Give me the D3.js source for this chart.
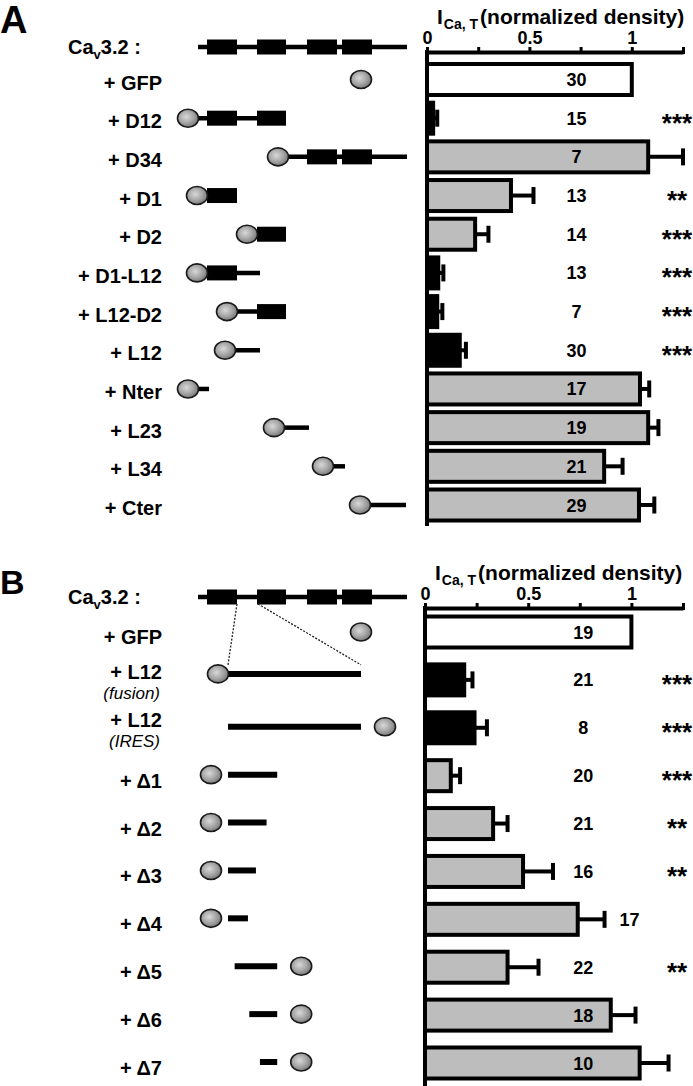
<!DOCTYPE html>
<html><head><meta charset="utf-8">
<script src="https://cdn.jsdelivr.net/npm/d3@7"></script>
<style>body{margin:0;background:#fff} svg{display:block} text{font-family:"Liberation Sans",Arial,Helvetica,sans-serif}</style>
</head><body><svg id="c" width="693" height="1086"></svg>
<script>
// ---------- Panel A data ----------
const catsA   = ["+ GFP","+ D12","+ D34","+ D1","+ D2","+ D1-L12","+ L12-D2","+ L12","+ Nter","+ L23","+ L34","+ Cter"];
const valuesA = [1.0, 0.03, 1.08, 0.41, 0.235, 0.055, 0.05, 0.16, 1.04, 1.08, 0.865, 1.035];
const errorsA = [0, 0.02, 0.17, 0.11, 0.065, 0.025, 0.025, 0.03, 0.045, 0.05, 0.09, 0.075];
const nA      = [30, 15, 7, 13, 14, 13, 7, 30, 17, 19, 21, 29];
const sigA    = ["","***","","**","***","***","***","***","","","",""];
const fillA   = ["white","black","gray","gray","gray","black","black","black","gray","gray","gray","gray"];
// construct fragments on the channel schematic (schematic units, channel = 0..209)
const fragStartA = [null, 0, 90, 9, 59, 9, 39, 37, 0, 86, 135, 172];
const fragEndA   = [null, 88, 209, 39, 88, 62, 88, 62, 11, 111, 147, 208];
const gfpOnlyPos = 163;
// channel domains (schematic units)
const domainNames = ["D1","D2","D3","D4"];
const domainStart = [9, 59, 109, 144];
const domainEnd   = [39, 88, 139, 174];
const channelLength = 209;
const L12range = [39, 60];

// ---------- Panel B data ----------
const catsB   = ["+ GFP","+ L12","+ L12","+ \u03941","+ \u03942","+ \u03943","+ \u03944","+ \u03945","+ \u03946","+ \u03947"];
const subB    = ["","(fusion)","(IRES)","","","","","","",""];
const valuesB = [1.0, 0.19, 0.24, 0.125, 0.33, 0.475, 0.74, 0.40, 0.90, 1.04];
const errorsB = [0, 0.04, 0.06, 0.045, 0.07, 0.145, 0.13, 0.15, 0.12, 0.14];
const nB      = [19, 21, 8, 20, 21, 16, 17, 22, 18, 10];
const sigB    = ["","***","***","***","**","**","","**","",""];
const fillB   = ["white","black","black","gray","gray","gray","gray","gray","gray","gray"];
// L12 fragments (units of the expanded L12 loop, 0..100)
const fragStartB = [null, 0, 0, 0, 0, 0, 0, 5, 16, 24];
const fragEndB   = [null, 100, 100, 37, 29, 21, 15, 37, 37, 37];
const gfpSideB   = ["alone","fused","right","left","left","left","left","right","right","right"];

const tickValues = [0, 0.25, 0.5, 0.75, 1, 1.25];
const tickLabels = {0:"0", 0.5:"0.5", 1:"1"};

// ---------- drawing ----------
const svg = d3.select("#c");
svg.append("rect").attr("width",693).attr("height",1086).attr("fill","#fff");
const FONT = '"Liberation Sans",Arial,Helvetica,sans-serif';
const colors = {white:"#ffffff", black:"#000000", gray:"#bdbdbd"};

const defs = svg.append("defs");
const grad = defs.append("radialGradient").attr("id","gfp").attr("cx","42%").attr("cy","42%").attr("r","65%");
grad.append("stop").attr("offset","0%").attr("stop-color","#d8d8d8");
grad.append("stop").attr("offset","50%").attr("stop-color","#a8a8a8");
grad.append("stop").attr("offset","100%").attr("stop-color","#707070");

function gfp(g, cx, cy){
  g.append("ellipse").attr("cx",cx).attr("cy",cy).attr("rx",10.5).attr("ry",9)
    .attr("fill","url(#gfp)").attr("stroke","#1a1a1a").attr("stroke-width",1.6);
}

const xs = d3.scaleLinear().domain([0, channelLength]).range([198, 407]);

function drawChannel(g, cy){
  g.append("line").attr("x1",xs(0)).attr("x2",xs(channelLength)).attr("y1",cy).attr("y2",cy)
    .attr("stroke","#000").attr("stroke-width",4.5);
  domainNames.forEach((d,i)=>{
    g.append("rect").attr("x",xs(domainStart[i])).attr("width",xs(domainEnd[i])-xs(domainStart[i]))
      .attr("y",cy-7.5).attr("height",15).attr("fill","#000");
  });
  const t = g.append("text").attr("x",68).attr("y",cy+7).attr("font-size",20).attr("font-weight","bold");
  t.append("tspan").text("Ca");
  t.append("tspan").attr("font-size",13).attr("dy",5).text("v");
  t.append("tspan").attr("dy",-5).text("3.2 :");
}

function drawPanel(opt){
  const g = svg.append("g");
  const x = d3.scaleLinear().domain([0,1.25]).range([opt.x0, 683]);
  const y = d3.scalePoint().domain(d3.range(opt.cats.length)).range([opt.yFirst, opt.yLast]);
  // panel letter
  g.append("text").attr("x",0).attr("y",opt.letterY).attr("font-size",opt.letterSize).attr("font-weight","bold").text(opt.letter);
  // title
  const tt = g.append("text").attr("x",opt.x0+10).attr("y",opt.axisY-28).attr("font-size",21).attr("font-weight","bold");
  tt.append("tspan").text("I");
  tt.append("tspan").attr("font-size",14).attr("dy",5).attr("dx",1).text("Ca, T");
  tt.append("tspan").attr("dy",-5).attr("dx",2).text("(normalized density)");
  // axis
  const ax = g.append("g").attr("transform",`translate(0,${opt.axisY})`)
    .call(d3.axisTop(x).tickValues(tickValues).tickFormat(d=>tickLabels[d]||"").tickSize(5).tickSizeOuter(0).tickPadding(3));
  ax.select(".domain").attr("stroke-width",4).attr("stroke","#000");
  ax.selectAll(".tick line").attr("stroke-width",3).attr("y2",-5).attr("y1",2);
  ax.selectAll(".tick text").attr("font-size",18).attr("font-weight","bold").attr("font-family",FONT).attr("fill","#000");
  // vertical base line
  g.append("line").attr("x1",x(0)).attr("x2",x(0)).attr("y1",opt.axisY-2).attr("y2",opt.yBottom)
    .attr("stroke","#000").attr("stroke-width",4);
  const labelXpx = x(opt.countX);
  opt.cats.forEach((c,i)=>{
    const cy = y(i), v = opt.values[i], e = opt.errors[i];
    // bar
    g.append("rect").attr("x",x(0)).attr("y",cy-15.5).attr("width",x(v)-x(0)).attr("height",31)
      .attr("fill",colors[opt.fills[i]]).attr("stroke","#000").attr("stroke-width",4);
    if(e>0){
      g.append("line").attr("x1",x(v)).attr("x2",x(v+e)).attr("y1",cy).attr("y2",cy).attr("stroke","#000").attr("stroke-width",4);
      g.append("line").attr("x1",x(v+e)).attr("x2",x(v+e)).attr("y1",cy-8.5).attr("y2",cy+8.5).attr("stroke","#000").attr("stroke-width",4);
    }
    // n count
    let lx = labelXpx, anchor = "middle";
    if (x(v) > labelXpx-15 && x(v) < labelXpx+20){ lx = x(v+e)+15; anchor = "start"; }
    g.append("text").attr("x",lx).attr("y",cy+6.5).attr("text-anchor",anchor)
      .attr("font-size",18).attr("font-weight","bold").text(opt.n[i]);
    if(opt.sig[i]) g.append("text").attr("x",677).attr("y",cy+13.5).attr("text-anchor","middle")
      .attr("font-size",26).attr("font-weight","bold").text(opt.sig[i]);
    // category label
    if(opt.sub && opt.sub[i]){
      g.append("text").attr("x",162).attr("y",cy-1).attr("text-anchor","end").attr("font-size",20).attr("font-weight","bold").text(c);
      g.append("text").attr("x",160).attr("y",cy+19).attr("text-anchor","end").attr("font-size",17).attr("font-style","italic").text(opt.sub[i]);
    } else {
      g.append("text").attr("x",162).attr("y",cy+opt.labelDy).attr("text-anchor","end").attr("font-size",20).attr("font-weight","bold").text(c);
    }
    opt.schematic(g, i, cy);
  });
  return {x,y,g};
}

// Panel A
const pA = drawPanel({
  letter:"A", letterY:33, letterSize:38, cats:catsA, values:valuesA, errors:errorsA, n:nA, sig:sigA, fills:fillA,
  x0:427, axisY:52, yFirst:79.5, yLast:505, yBottom:526, countX:0.73, labelDy:10,
  schematic:(g,i,cy)=>{
    if(fragStartA[i]===null){ gfp(g, xs(gfpOnlyPos), cy); return; }
    const s = fragStartA[i], e = fragEndA[i];
    g.append("line").attr("x1",xs(s)).attr("x2",xs(e)).attr("y1",cy).attr("y2",cy).attr("stroke","#000").attr("stroke-width",4.5);
    domainNames.forEach((d,k)=>{
      const a = Math.max(s, domainStart[k]), b = Math.min(e, domainEnd[k]);
      if(b-a>6) g.append("rect").attr("x",xs(a)).attr("width",xs(b)-xs(a)).attr("y",cy-7.5).attr("height",15).attr("fill","#000");
    });
    gfp(g, xs(s)-10, cy);
  }
});
drawChannel(pA.g, 47);

// Panel B
const xe = d3.scaleLinear().domain([0,100]).range([228, 361]);
const pB = drawPanel({
  letter:"B", letterY:594, letterSize:34, cats:catsB, sub:subB, values:valuesB, errors:errorsB, n:nB, sig:sigB, fills:fillB,
  x0:425, axisY:608, yFirst:632, yLast:1063, yBottom:1086, countX:0.767, labelDy:12,
  schematic:(g,i,cy)=>{
    if(fragStartB[i]===null){ gfp(g, xs(gfpOnlyPos), cy); return; }
    const s = fragStartB[i], e = fragEndB[i], yy = (i===1? cy-6 : cy-1);
    g.append("line").attr("x1",xe(s)).attr("x2",xe(e)).attr("y1",yy).attr("y2",yy).attr("stroke","#000").attr("stroke-width",6);
    const side = gfpSideB[i];
    if(side==="fused") gfp(g, xe(s)-10, yy);
    else if(side==="left") gfp(g, xe(0)-17, yy);
    else if(side==="right") gfp(g, xe(e)+24, yy);
  }
});
drawChannel(pB.g, 597);
// zoom lines from L12 loop to expanded fusion construct
const yF = pB.y(1) - 15;
[[L12range[0],0],[L12range[1],100]].forEach(([a,b])=>{
  pB.g.append("line").attr("x1",xs(a)).attr("y1",604).attr("x2",xe(b)).attr("y2",yF)
    .attr("stroke","#222").attr("stroke-width",1.3).attr("stroke-dasharray","2,1.5");
});
</script></body></html>
